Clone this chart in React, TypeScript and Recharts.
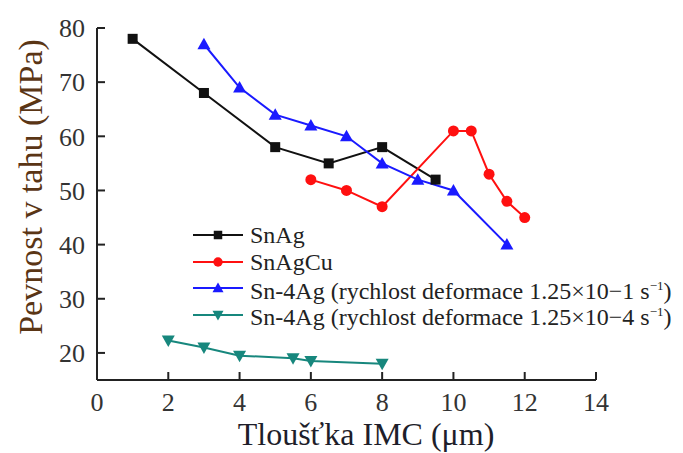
import React from "react";
import { LineChart, Line, XAxis, YAxis, Legend, Label } from "recharts";

// Tloušťka IMC (µm) vs. pevnost v tahu (MPa)
const snAgX = [1, 3, 5, 6.5, 8, 9.5];
const snAgY = [78, 68, 58, 55, 58, 52];

const snAgCuX = [6, 7, 8, 10, 10.5, 11, 11.5, 12];
const snAgCuY = [52, 50, 47, 61, 61, 53, 48, 45];

const fastX = [3, 4, 5, 6, 7, 8, 9, 10, 11.5];
const fastY = [77, 69, 64, 62, 60, 55, 52, 50, 40];

const slowX = [2, 3, 4, 5.5, 6, 8];
const slowY = [22.3, 21, 19.5, 19, 18.5, 18];

const xTicks = [0, 2, 4, 6, 8, 10, 12, 14];
const yTicks = [20, 30, 40, 50, 60, 70, 80];

const toPoints = (xs: number[], ys: number[]) => xs.map((x, i) => ({ x, y: ys[i] }));

const FONT = '"Liberation Serif", "Times New Roman", serif';

type Shape = "square" | "circle" | "up" | "down";

const series: Array<{ name: React.ReactNode; key: string; color: string; shape: Shape; data: { x: number; y: number }[] }> = [
    { key: "snag", name: "SnAg", color: "#111111", shape: "square", data: toPoints(snAgX, snAgY) },
    { key: "snagcu", name: "SnAgCu", color: "#ff1010", shape: "circle", data: toPoints(snAgCuX, snAgCuY) },
    {
        key: "fast",
        name: (
            <>
                Sn-4Ag (rychlost deformace 1.25×10−1 s<sup style={{ fontSize: 13 }}>−1</sup>)
            </>
        ),
        color: "#1a1aff",
        shape: "up",
        data: toPoints(fastX, fastY),
    },
    {
        key: "slow",
        name: (
            <>
                Sn-4Ag (rychlost deformace 1.25×10−4 s<sup style={{ fontSize: 13 }}>−1</sup>)
            </>
        ),
        color: "#17877d",
        shape: "down",
        data: toPoints(slowX, slowY),
    },
];

function Marker({ cx, cy, shape, color, s = 1 }: { cx: number; cy: number; shape: Shape; color: string; s?: number }) {
    if (shape === "square") {
        return <rect x={cx - 5 * s} y={cy - 5 * s} width={10 * s} height={10 * s} fill={color} />;
    }
    if (shape === "circle") {
        return <circle cx={cx} cy={cy} r={5.5 * s} fill={color} />;
    }
    if (shape === "up") {
        return <polygon points={`${cx},${cy - 6.5 * s} ${cx - 6.5 * s},${cy + 5 * s} ${cx + 6.5 * s},${cy + 5 * s}`} fill={color} />;
    }
    return <polygon points={`${cx},${cy + 6.5 * s} ${cx - 6.5 * s},${cy - 5 * s} ${cx + 6.5 * s},${cy - 5 * s}`} fill={color} />;
}

const dotFor = (shape: Shape, color: string) => (props: any) => {
    const { cx, cy, index } = props;
    if (cx == null || cy == null) return <g key={index} />;
    return (
        <g key={index}>
            <Marker cx={cx} cy={cy} shape={shape} color={color} />
        </g>
    );
};

function LegendBox() {
    return (
        <div style={{ fontFamily: FONT, fontSize: 24, color: "#222" }}>
            {series.map((s) => (
                <div key={s.key} style={{ display: "flex", alignItems: "center", height: 26.5, whiteSpace: "nowrap" }}>
                    <svg width={50} height={16} style={{ display: "block" }}>
                        <line x1={0} y1={8} x2={50} y2={8} stroke={s.color} strokeWidth={2} />
                        <Marker cx={25} cy={8} shape={s.shape} color={s.color} s={0.85} />
                    </svg>
                    <span style={{ marginLeft: 7, lineHeight: "24px" }}>{s.name}</span>
                </div>
            ))}
        </div>
    );
}

export default function App() {
    return (
        <div style={{ position: "absolute", left: 0, top: 0, background: "#fff" }}>
            <LineChart width={683} height={453} margin={{ top: 28, right: 87, bottom: 28, left: 37 }}>
                <XAxis
                    type="number"
                    dataKey="x"
                    domain={[0, 14]}
                    ticks={xTicks}
                    height={45}
                    tickSize={-8}
                    tickMargin={21}
                    stroke="#222"
                    strokeWidth={2}
                    tick={{ fill: "#333", fontSize: 26, fontFamily: FONT }}
                    allowDuplicatedCategory={false}
                >
                    <Label
                        content={() => (
                            <text x={366} y={445} textAnchor="middle" fontSize={32} fontFamily={FONT} fill="#1e1e2a">
                                Tloušťka IMC (μm)
                            </text>
                        )}
                    />
                </XAxis>
                <YAxis
                    type="number"
                    domain={[15, 80]}
                    ticks={yTicks}
                    width={60}
                    tickSize={-8}
                    tickMargin={20}
                    stroke="#222"
                    strokeWidth={2}
                    tick={{ fill: "#333", fontSize: 26, fontFamily: FONT }}
                >
                    <Label
                        content={() => (
                            <text
                                x={42}
                                y={187}
                                textAnchor="middle"
                                fontSize={34}
                                fontFamily={FONT}
                                fill="#5a3515"
                                transform="rotate(-90 42 187)"
                            >
                                Pevnost v tahu (MPa)
                            </text>
                        )}
                    />
                </YAxis>
                <Legend
                    layout="vertical"
                    align="center"
                    verticalAlign="middle"
                    content={() => <LegendBox />}
                    wrapperStyle={{ position: "absolute", left: 193, top: 222, width: "auto" }}
                />
                {series.map((s) => (
                    <Line
                        key={s.key}
                        data={s.data}
                        dataKey="y"
                        type="linear"
                        stroke={s.color}
                        strokeWidth={2}
                        dot={dotFor(s.shape, s.color)}
                        activeDot={false}
                        isAnimationActive={false}
                        legendType="none"
                    />
                ))}
            </LineChart>
        </div>
    );
}
